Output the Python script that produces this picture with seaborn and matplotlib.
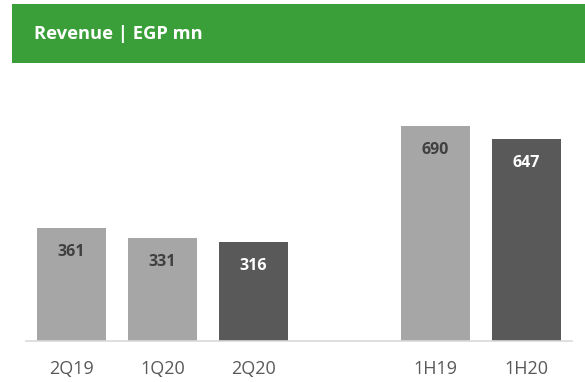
import matplotlib
matplotlib.use("Agg")
import matplotlib.pyplot as plt
import seaborn as sns
import pandas as pd
from matplotlib.patches import Rectangle

categories = ["2Q19", "1Q20", "2Q20", "1H19", "1H20"]
values = [361, 331, 316, 690, 647]
bar_colors = ["#A6A6A6", "#A6A6A6", "#595959", "#A6A6A6", "#595959"]
label_colors = ["#404040", "#404040", "#FFFFFF", "#404040", "#FFFFFF"]
order = ["2Q19", "1Q20", "2Q20", " ", "1H19", "1H20"]
title = "Revenue | EGP mn"

sns.set_theme(style="white")
plt.rcParams['font.family'] = ['Open Sans', 'DejaVu Sans']

df = pd.DataFrame({"period": categories, "value": values})
palette = dict(zip(categories, bar_colors))

fig = plt.figure(figsize=(5.85, 3.82), dpi=100)
fig.patch.set_facecolor("white")

# green banner
fig.patches.append(Rectangle((12/585, 1-63/382), 1-12/585, 59/382,
                             transform=fig.transFigure, facecolor="#3A9F38",
                             edgecolor="none", zorder=0))
fig.text(34/585, 1-34/382, title, color="white", fontsize=13.2,
         fontweight="bold", va="center", ha="left")

ax = fig.add_axes([26/585, 1-341/382, 546/585, 251/382])
sns.barplot(data=df, x="period", y="value", hue="period", order=order,
            palette=palette, width=0.75, legend=False, ax=ax, saturation=1,
            linewidth=0)

ax.set_xlim(-0.5, 5.5)
ax.set_ylim(0, 251/0.312)
pos = {c: i for i, c in enumerate(order)}
for c, v, lc in zip(categories, values, label_colors):
    ax.annotate(str(v), xy=(pos[c], v), xytext=(0, -24*0.72),
                textcoords="offset points", ha="center", va="center",
                color=lc, fontsize=11.5, fontweight="bold")

ax.set_xlabel("")
ax.set_ylabel("")
ax.set_yticks([])
ax.set_xticks(range(len(order)))
ax.set_xticklabels(order)
ax.tick_params(axis="x", length=0, pad=14, labelsize=13, labelcolor="#595959")
for s in ["top", "left", "right"]:
    ax.spines[s].set_visible(False)
ax.spines["bottom"].set_color("#D9D9D9")
ax.spines["bottom"].set_linewidth(1.2)
ax.set_facecolor("none")

fig.savefig("out.png", dpi=100)
